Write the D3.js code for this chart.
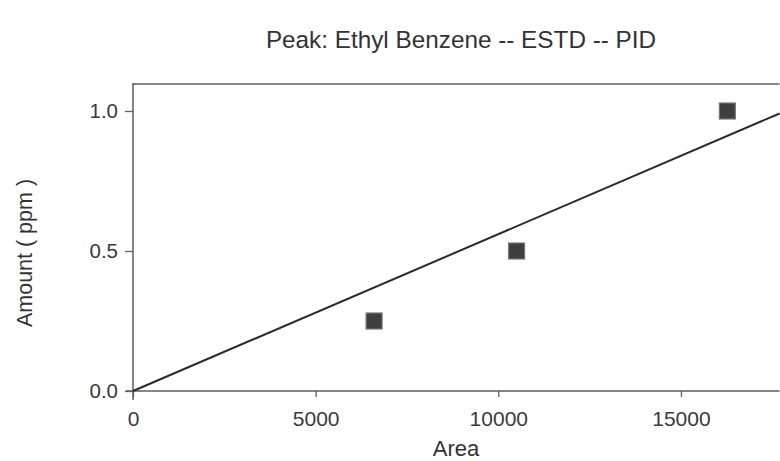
<!DOCTYPE html>
<html>
<head>
<meta charset="utf-8">
<script src="https://cdn.jsdelivr.net/npm/d3@7"></script>
<style>
  html, body { margin: 0; padding: 0; background: #fff; }
  svg { display: block; }
  text { font-family: "Liberation Sans", Arial, sans-serif; fill: #333; }
</style>
</head>
<body>
<svg id="chart" width="780" height="461"></svg>
<script>
// ---- data ----
const areas = [6600, 10500, 16270];
const amounts = [0.25, 0.5, 1.0];
const fitSlope = 5.6e-5;           // ppm per area unit (calibration fit through origin)
const xTicks = [0, 5000, 10000, 15000];
const yTicks = [0.0, 0.5, 1.0];
const xMinorTicks = d3.range(0, 18000, 1000);
const yMinorTicks = d3.range(0, 1.1, 0.1);
const title = "Peak: Ethyl Benzene -- ESTD -- PID";
const xLabel = "Area";
const yLabel = "Amount ( ppm )";

// ---- layout ----
const svg = d3.select("#chart");
const plotLeft = 133, plotTop = 83, plotBottom = 391;
const xMax = 17700;
const x = d3.scaleLinear().domain([0, xMax]).range([plotLeft, plotLeft + 36.53 * xMax / 1000]);
const y = d3.scaleLinear().domain([0, 1.1]).range([plotBottom, plotTop]);
const axisColor = "#5e5e5e";
const fontFam = '"Liberation Sans", Arial, sans-serif';

// title
svg.append("text")
  .attr("x", 461).attr("y", 48)
  .attr("text-anchor", "middle")
  .style("font-size", "24.3px")
  .style("fill", "#333")
  .text(title);

// top frame line
svg.append("line")
  .attr("x1", plotLeft).attr("x2", x(xMax))
  .attr("y1", plotTop + 1).attr("y2", plotTop + 1)
  .attr("stroke", axisColor).attr("stroke-width", 1.4);

// x axis
const gx = svg.append("g").attr("transform", `translate(0,${plotBottom})`);
gx.call(d3.axisBottom(x).tickValues(xMinorTicks).tickSize(3).tickFormat(""))
  .call(g => g.select(".domain").remove());
gx.call(d3.axisBottom(x).tickValues(xTicks).tickSize(6).tickSizeOuter(0).tickPadding(14)
  .tickFormat(d3.format("d")));
gx.selectAll("line").attr("stroke", axisColor).attr("stroke-width", 1.3);
gx.selectAll(".domain").attr("stroke", axisColor).attr("stroke-width", 1.5)
  .attr("d", `M${plotLeft - 7},0H${x(xMax)}`);
gx.selectAll("text").style("font-size", "21px").style("fill", "#3a3a3a")
  .style("font-family", fontFam);

// y axis
const gy = svg.append("g").attr("transform", `translate(${plotLeft},0)`);
gy.call(d3.axisLeft(y).tickValues(yMinorTicks).tickSize(4).tickFormat(""))
  .call(g => g.select(".domain").remove());
gy.call(d3.axisLeft(y).tickValues(yTicks).tickSize(8).tickSizeOuter(0).tickPadding(7)
  .tickFormat(d3.format(".1f")));
gy.selectAll("line").attr("stroke", axisColor).attr("stroke-width", 1.3);
gy.selectAll(".domain").attr("stroke", axisColor).attr("stroke-width", 1.5)
  .attr("d", `M0,${plotTop}V${plotBottom + 9}`);
gy.selectAll("text").style("font-size", "20.5px").style("fill", "#3a3a3a")
  .style("font-family", fontFam);

// axis labels
svg.append("text")
  .attr("x", 456).attr("y", 456)
  .attr("text-anchor", "middle")
  .style("font-size", "22px")
  .text(xLabel);
svg.append("text")
  .attr("transform", `translate(32,253) rotate(-90)`)
  .attr("text-anchor", "middle")
  .style("font-size", "21.5px")
  .text(yLabel);

// fit line
svg.append("line")
  .attr("x1", x(0)).attr("y1", y(0))
  .attr("x2", x(xMax)).attr("y2", y(fitSlope * xMax))
  .attr("stroke", "#2a2a2a").attr("stroke-width", 2);

// markers
const s = 16;
svg.selectAll("rect.pt").data(areas.map((a, i) => [a, amounts[i]]))
  .enter().append("rect")
  .attr("class", "pt")
  .attr("x", d => x(d[0]) - s / 2)
  .attr("y", d => y(d[1]) - s / 2)
  .attr("width", s).attr("height", s)
  .attr("fill", "#3f3f3f")
  .attr("stroke", "#777").attr("stroke-width", 1.2);
</script>
</body>
</html>
